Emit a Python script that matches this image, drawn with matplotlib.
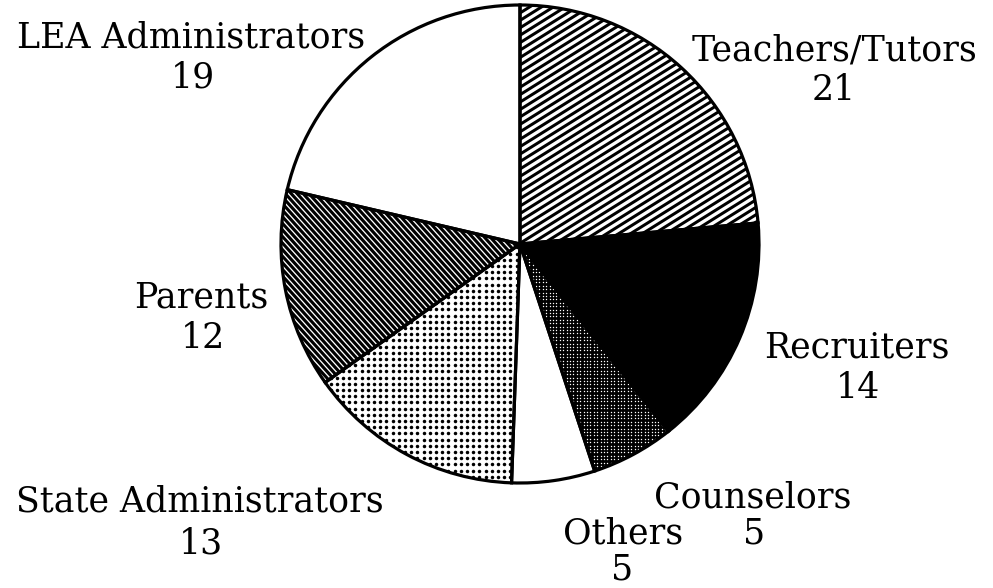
import numpy as np
import matplotlib
matplotlib.use("Agg")
import matplotlib.pyplot as plt
from matplotlib.collections import LineCollection

categories = ["Teachers/Tutors", "Recruiters", "Counselors", "Others",
              "State Administrators", "Parents", "LEA Administrators"]
values = [21, 14, 5, 5, 13, 12, 19]

# fill style per wedge
fills = ["lines_ne", "solid", "dots_white", "plain", "dots_black", "lines_nw", "plain"]

# label baseline positions in pixel coords (x centre, y from top)
label_pos = {
    "Teachers/Tutors": (834, 61),
    "Recruiters": (857, 357),
    "Counselors": (753, 507),
    "Others": (623, 544),
    "State Administrators": (200, 512),
    "Parents": (201, 307),
    "LEA Administrators": (191, 48),
}
value_pos = {
    "Teachers/Tutors": (834, 100),
    "Recruiters": (858, 398),
    "Counselors": (754, 544),
    "Others": (622, 579),
    "State Administrators": (201, 553),
    "Parents": (203, 348),
    "LEA Administrators": (193, 88),
}

W, H = 993, 588
fig = plt.figure(figsize=(W / 100, H / 100), dpi=100)
ax = fig.add_axes([0, 0, 1, 1])

center = (520, H - 244)
radius = 239

wedges, _ = ax.pie(values, startangle=90, counterclock=False,
                   center=center, radius=radius, frame=True,
                   wedgeprops=dict(linewidth=0))

cx, cy = center
PT = 72 / 100  # points per pixel


def hatch_lines(wedge, angle_deg, spacing, lw_px, color):
    a = np.deg2rad(angle_deg)
    d = np.array([np.cos(a), np.sin(a)])
    n = np.array([-np.sin(a), np.cos(a)])
    L = radius * 1.5
    offs = np.arange(-L, L, spacing)
    segs = []
    for o in offs:
        p = np.array([cx, cy]) + n * o
        segs.append([p - d * L, p + d * L])
    lc = LineCollection(segs, colors=color, linewidths=lw_px * PT,
                        capstyle="butt", zorder=3)
    ax.add_collection(lc)
    lc.set_clip_path(wedge)


def dot_grid(wedge, spacing, diam_px, color):
    xs = np.arange(cx - radius, cx + radius, spacing)
    ys = np.arange(cy - radius, cy + radius, spacing)
    X, Y = np.meshgrid(xs, ys)
    s = (diam_px * PT) ** 2
    sc = ax.scatter(X.ravel(), Y.ravel(), s=s, c=color, marker="o",
                    linewidths=0, zorder=3)
    sc.set_clip_path(wedge)


for w, f in zip(wedges, fills):
    if f == "solid":
        w.set_facecolor("black")
    elif f == "plain":
        w.set_facecolor("white")
    elif f == "lines_ne":
        w.set_facecolor("white")
        hatch_lines(w, 32, 6.3, 3.0, "black")
    elif f == "lines_nw":
        w.set_facecolor("black")
        hatch_lines(w, -48, 4.4, 1.3, "white")
    elif f == "dots_white":
        w.set_facecolor("black")
        dot_grid(w, 3.4, 1.4, "white")
    elif f == "dots_black":
        w.set_facecolor("white")
        dot_grid(w, 6.2, 3.5, "black")

# outlines drawn on top
wedges2, _ = ax.pie(values, startangle=90, counterclock=False,
                    center=center, radius=radius, frame=True,
                    wedgeprops=dict(linewidth=2.3, edgecolor="black",
                                    facecolor="none", zorder=5))

font = dict(family="DejaVu Serif", fontsize=25, color="black")
for cat, v in zip(categories, values):
    x, y = label_pos[cat]
    ax.text(x, H - y, cat, ha="center", va="baseline", **font)
    x, y = value_pos[cat]
    ax.text(x, H - y, str(v), ha="center", va="baseline", **font)

ax.set_xlim(0, W)
ax.set_ylim(0, H)
ax.set_aspect("auto")
ax.axis("off")

fig.savefig("out.png", dpi=100, facecolor="white")
